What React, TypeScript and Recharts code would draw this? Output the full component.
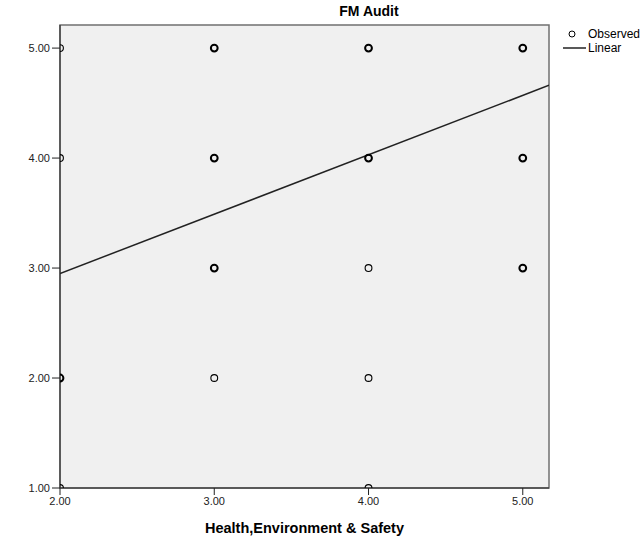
import React from 'react';
import {
  ScatterChart,
  Scatter,
  XAxis,
  YAxis,
  ReferenceArea,
} from 'recharts';

// Observed points (x = Health,Environment & Safety, y = FM Audit)
const obsX = [2, 2, 2, 2, 3, 3, 3, 3, 4, 4, 4, 4, 4, 5, 5, 5];
const obsY = [5, 4, 2, 1, 5, 4, 3, 2, 5, 4, 3, 2, 1, 5, 4, 3];
// how many cases overlap at each point (drawn heavier when > 1)
const obsCount = [1, 1, 2, 1, 3, 3, 3, 1, 3, 3, 1, 1, 1, 3, 3, 3];

// Linear fit
const fitIntercept = 2.95; // value at x = 2
const fitSlope = 0.54;

const xDomain: [number, number] = [2, 5.17];
const yDomain: [number, number] = [1, 5.21];
const xTicks = [2, 3, 4, 5];
const yTicks = [1, 2, 3, 4, 5];

const title = 'FM Audit';
const xLabel = 'Health,Environment & Safety';
const legendObserved = 'Observed';
const legendLinear = 'Linear';

const observed = obsX.map((x, i) => ({ x, y: obsY[i], n: obsCount[i] }));
const fitLine = xDomain.map((x) => ({ x, y: fitIntercept + fitSlope * (x - 2) }));

const FONT = '"Liberation Sans", Arial, sans-serif';

const Circle = (props: any) => {
  const { cx, cy, payload } = props;
  if (cx == null || cy == null) return null;
  const heavy = payload && payload.n > 1;
  return (
    <circle
      cx={cx}
      cy={cy}
      r={3.4}
      fill="none"
      stroke="#000"
      strokeWidth={heavy ? 2 : 1.1}
    />
  );
};

const NoShape = () => <g />;

const fmt = (v: number) => v.toFixed(2);

export default function App() {
  return (
    <div
      style={{
        position: 'absolute',
        left: 0,
        top: 0,
        width: 644,
        height: 542,
        background: '#fff',
        fontFamily: FONT,
        overflow: 'hidden',
      }}
    >
      <ScatterChart
        width={644}
        height={542}
        margin={{ top: 25, right: 95, bottom: 4, left: 8 }}
      >
        <XAxis
          type="number"
          dataKey="x"
          domain={xDomain}
          ticks={xTicks}
          allowDataOverflow
          tickFormatter={fmt}
          height={50}
          tickSize={7}
          axisLine={{ stroke: '#222', strokeWidth: 1 }}
          tickLine={{ stroke: '#222', strokeWidth: 1 }}
          tick={{ fontSize: 11, fill: '#222', fontFamily: FONT }}
          label={{
            value: xLabel,
            position: 'insideBottom',
            offset: 5,
            style: { fontSize: 14.5, fontWeight: 'bold', fill: '#000', fontFamily: FONT },
          }}
        />
        <YAxis
          type="number"
          dataKey="y"
          domain={yDomain}
          ticks={yTicks}
          allowDataOverflow
          tickFormatter={fmt}
          width={52}
          tickSize={8}
          axisLine={{ stroke: '#222', strokeWidth: 1 }}
          tickLine={{ stroke: '#222', strokeWidth: 1 }}
          tick={{ fontSize: 11, fill: '#222', fontFamily: FONT }}
        />
        <ReferenceArea
          x1={xDomain[0]}
          x2={xDomain[1]}
          y1={yDomain[0]}
          y2={yDomain[1]}
          fill="#f0f0f0"
          fillOpacity={1}
          stroke="#707070"
          strokeWidth={1.5}
        />
        <Scatter
          data={fitLine}
          line={{ stroke: '#222', strokeWidth: 1.5 }}
          shape={NoShape}
          isAnimationActive={false}
        />
        <Scatter data={observed} shape={Circle} isAnimationActive={false} />
      </ScatterChart>
      <div
        style={{
          position: 'absolute',
          left: 269,
          width: 200,
          top: 3,
          textAlign: 'center',
          fontSize: 14,
          fontWeight: 'bold',
          lineHeight: '16px',
          color: '#000',
        }}
      >
        {title}
      </div>
      <div style={{ position: 'absolute', left: 560, top: 27, fontSize: 12, lineHeight: '14px', color: '#000' }}>
        <div style={{ display: 'flex', alignItems: 'center', height: 14 }}>
          <svg width={28} height={14}>
            <circle cx={12} cy={7} r={3} fill="none" stroke="#000" strokeWidth={1} />
          </svg>
          <span>{legendObserved}</span>
        </div>
        <div style={{ display: 'flex', alignItems: 'center', height: 14 }}>
          <svg width={28} height={14}>
            <line x1={3} x2={26} y1={7} y2={7} stroke="#222" strokeWidth={1.5} />
          </svg>
          <span>{legendLinear}</span>
        </div>
      </div>
    </div>
  );
}
